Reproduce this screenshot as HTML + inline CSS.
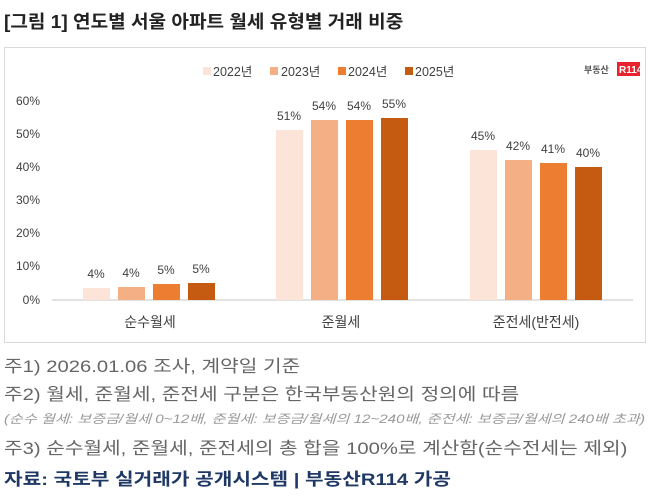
<!DOCTYPE html>
<html><head><meta charset="utf-8"><style>
body{margin:0;width:658px;height:497px;background:#fff;overflow:hidden;font-family:"Liberation Sans","Noto Sans CJK KR",sans-serif;}
.t{position:absolute;white-space:nowrap;transform-origin:0 0;}
</style></head><body>
<div class="t" style="left:4px;top:8px;font-size:18px;font-weight:bold;color:#222;transform:scaleX(1.06);">[그림 1] 연도별 서울 아파트 월세 유형별 거래 비중</div>
<div style="position:absolute;left:4px;top:47px;width:640px;height:294px;border:1px solid #d9d9d9;"></div>
<svg width="658" height="497" style="position:absolute;left:0;top:0" font-family="Liberation Sans, Noto Sans CJK KR, sans-serif">
<g font-size="12.5" fill="#404040">
<rect x="203" y="67" width="8" height="8" fill="#fce4d8"/><text x="213" y="76">2022년</text>
<rect x="270" y="67" width="8" height="8" fill="#f4b084"/><text x="281" y="76">2023년</text>
<rect x="338" y="67" width="8" height="8" fill="#ed7d31"/><text x="348" y="76">2024년</text>
<rect x="405" y="67" width="8" height="8" fill="#c55a11"/><text x="415" y="76">2025년</text>
</g>
<text x="584" y="73" font-size="9" fill="#555" font-weight="bold">부동산</text>
<rect x="617" y="62" width="23" height="14" fill="#e8232d"/>
<text x="619" y="73" font-size="10" fill="#fff" font-weight="bold">R114</text>
<g font-size="12" fill="#404040" text-anchor="end">
<text x="40" y="105">60%</text><text x="40" y="138">50%</text><text x="40" y="171">40%</text>
<text x="40" y="204">30%</text><text x="40" y="237">20%</text><text x="40" y="270">10%</text><text x="40" y="304">0%</text>
</g>
<line x1="52" y1="300" x2="633" y2="300" stroke="#d9d9d9" stroke-width="1.5"/>
<g>
<rect x="83" y="288" width="27" height="12" fill="#fce4d8"/>
<rect x="118" y="287" width="27" height="13" fill="#f4b084"/>
<rect x="153" y="284" width="27" height="16" fill="#ed7d31"/>
<rect x="188" y="283" width="27" height="17" fill="#c55a11"/>
<rect x="276" y="130" width="27" height="170" fill="#fce4d8"/>
<rect x="311" y="120" width="27" height="180" fill="#f4b084"/>
<rect x="346" y="120" width="27" height="180" fill="#ed7d31"/>
<rect x="381" y="118" width="27" height="182" fill="#c55a11"/>
<rect x="470" y="150" width="27" height="150" fill="#fce4d8"/>
<rect x="505" y="160" width="27" height="140" fill="#f4b084"/>
<rect x="540" y="163" width="27" height="137" fill="#ed7d31"/>
<rect x="575" y="167" width="27" height="133" fill="#c55a11"/>
</g>
<g font-size="12" fill="#404040" text-anchor="middle">
<text x="96" y="278">4%</text><text x="131" y="277">4%</text><text x="166" y="274">5%</text><text x="201" y="273">5%</text>
<text x="289" y="120">51%</text><text x="324" y="110">54%</text><text x="359" y="110">54%</text><text x="394" y="108">55%</text>
<text x="483" y="140">45%</text><text x="518" y="150">42%</text><text x="553" y="153">41%</text><text x="588" y="157">40%</text>
</g>
<g font-size="14" fill="#404040" text-anchor="middle">
<text x="150" y="327">순수월세</text><text x="341" y="327">준월세</text><text x="536" y="327">준전세(반전세)</text>
</g>
</svg>
<div class="t" style="left:4px;top:352px;font-size:17px;color:#666;transform:scaleX(1.19);">주1) 2026.01.06 조사, 계약일 기준</div>
<div class="t" style="left:4px;top:380px;font-size:17px;color:#666;transform:scaleX(1.19);">주2) 월세, 준월세, 준전세 구분은 한국부동산원의 정의에 따름</div>
<div class="t" style="left:4px;top:410px;font-size:12px;color:#999;font-style:italic;transform:scaleX(1.26);">(순수 월세: 보증금/월세 0~12배, 준월세: 보증금/월세의 12~240배, 준전세: 보증금/월세의 240배 초과)</div>
<div class="t" style="left:4px;top:434px;font-size:17px;color:#666;transform:scaleX(1.19);">주3) 순수월세, 준월세, 준전세의 총 합을 100%로 계산함(순수전세는 제외)</div>
<div class="t" style="left:4px;top:465px;font-size:17px;font-weight:bold;color:#1f3864;transform:scaleX(1.19);">자료: 국토부 실거래가 공개시스템 | 부동산R114 가공</div>
</body></html>
